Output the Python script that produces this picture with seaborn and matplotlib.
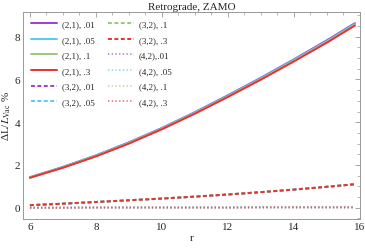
import matplotlib
matplotlib.use('Agg')
import matplotlib.pyplot as plt
import seaborn as sns
from matplotlib.ticker import MultipleLocator

# radius samples
r = [6, 7, 8, 9, 10, 11, 12, 13, 14, 15, 15.85]

# (2,1) modes - nearly identical curves
m21_01 = [1.43, 1.91, 2.45, 3.06, 3.73, 4.47, 5.26, 6.08, 6.94, 7.83, 8.63]
m21_05 = [1.42, 1.90, 2.44, 3.04, 3.71, 4.45, 5.23, 6.05, 6.91, 7.79, 8.59]
m21_1 = [1.41, 1.88, 2.42, 3.02, 3.69, 4.42, 5.20, 6.02, 6.87, 7.75, 8.55]
m21_3 = [1.40, 1.87, 2.40, 3.00, 3.67, 4.40, 5.18, 5.99, 6.84, 7.72, 8.52]

# (3,2) modes
m32_01 = [0.12, 0.19, 0.27, 0.35, 0.43, 0.52, 0.62, 0.73, 0.85, 0.98, 1.10]
m32_05 = [0.12, 0.19, 0.27, 0.35, 0.43, 0.52, 0.62, 0.73, 0.85, 0.98, 1.10]
m32_1 = [0.12, 0.19, 0.27, 0.35, 0.43, 0.52, 0.62, 0.73, 0.85, 0.98, 1.10]
m32_3 = [0.12, 0.19, 0.27, 0.35, 0.43, 0.52, 0.62, 0.73, 0.85, 0.98, 1.10]

# (4,2) modes
m42_01 = [0.00, 0.00, 0.01, 0.01, 0.01, 0.01, 0.01, 0.02, 0.02, 0.02, 0.02]
m42_05 = [0.00, 0.00, 0.01, 0.01, 0.01, 0.01, 0.01, 0.02, 0.02, 0.02, 0.02]
m42_1 = [0.00, 0.00, 0.01, 0.01, 0.01, 0.01, 0.01, 0.02, 0.02, 0.02, 0.02]
m42_3 = [0.00, 0.00, 0.01, 0.01, 0.01, 0.01, 0.01, 0.02, 0.02, 0.02, 0.02]

labels = ['(2,1), .01', '(2,1), .05', '(2,1), .1', '(2,1), .3',
          '(3,2), .01', '(3,2), .05', '(3,2), .1', '(3,2), .3',
          '(4,2),.01', '(4,2), .05', '(4,2), .1', '(4,2), .3']
series = [m21_01, m21_05, m21_1, m21_3,
          m32_01, m32_05, m32_1, m32_3,
          m42_01, m42_05, m42_1, m42_3]
colors = ['#9b3fd6', '#5bc8ef', '#9cc97a', '#e8322d'] * 3
styles = ['-'] * 4 + [(0, (2.0, 1.3))] * 4 + [(0, (0.7, 1.2))] * 4

sns.set_style('white')
plt.rcParams['font.family'] = ['Liberation Serif', 'DejaVu Serif']
plt.rcParams['mathtext.fontset'] = 'stix'

fig, ax = plt.subplots(figsize=(3.65, 2.51), dpi=100)
fig.subplots_adjust(left=0.063, right=0.986, top=0.948, bottom=0.124)

for i, (y, lab) in enumerate(zip(series, labels)):
    alpha = 0.6 if i >= 8 else 1.0
    sns.lineplot(x=r, y=y, ax=ax, color=colors[i], linestyle=styles[i],
                 linewidth=1.4, label=lab, alpha=alpha)

ax.set_xlim(5.79, 16.0)
ax.set_ylim(-0.52, 9.15)
ax.xaxis.set_major_locator(MultipleLocator(2))
ax.xaxis.set_minor_locator(MultipleLocator(0.5))
ax.yaxis.set_major_locator(MultipleLocator(2))
ax.yaxis.set_minor_locator(MultipleLocator(0.5))
ax.tick_params(which='both', direction='in', top=True, right=True,
               color='#999999', labelsize=8, pad=2)
ax.tick_params(which='major', length=3.5, width=0.6)
ax.tick_params(which='minor', length=2, width=0.5)
for s in ax.spines.values():
    s.set_color('#999999')
    s.set_linewidth(0.7)

ax.set_title('Retrograde, ZAMO', fontsize=8, pad=2)
ax.set_xlabel('r', fontsize=8, labelpad=2)
ax.set_ylabel(r'ΔL/$L_{\mathrm{Vac}}$ %', fontsize=8, labelpad=1)

ax.legend(ncol=2, loc='upper left', frameon=False, fontsize=6.5,
          handlelength=2.9, columnspacing=1.4, labelspacing=0.8,
          borderaxespad=0.5, handletextpad=0.55)

fig.savefig('out.png', dpi=100)
